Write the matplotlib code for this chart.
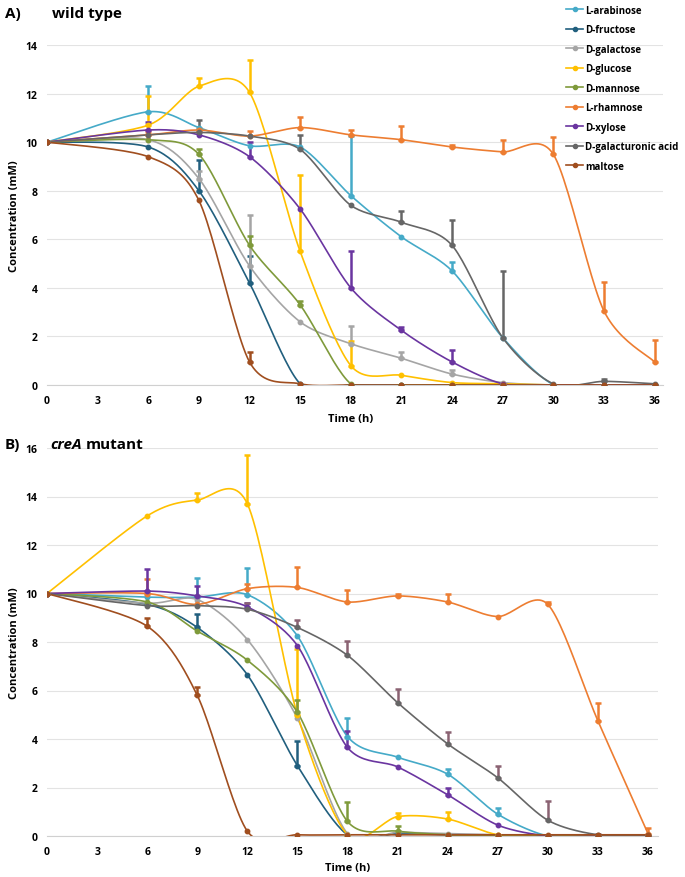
import numpy as np
import matplotlib
matplotlib.use("Agg")
import matplotlib.pyplot as plt

plt.rcParams['font.family'] = ['Open Sans', 'DejaVu Sans']

# sampling times (h)
t = [0, 6, 9, 12, 15, 18, 21, 24, 27, 30, 33, 36]

names = ['L-arabinose', 'D-fructose', 'D-galactose', 'D-glucose', 'D-mannose',
         'L-rhamnose', 'D-xylose', 'D-galacturonic acid', 'maltose']
colors = ['#45AAC8', '#215F7E', '#A5A5A5', '#FFC000', '#7F9A3B',
          '#ED7D31', '#6A35A0', '#666666', '#A04E1F']

# A) wild type, mean and upper error (mM)
arab_wt = [10, 11.25, 10.6, 9.85, 9.8, 7.8, 6.1, 4.7, 1.95, 0.02, 0, 0]
arab_wt_err = [0, 1.05, 0, 0, 0, 2.45, 0, 0.35, 0, 0, 0, 0]
fruc_wt = [10, 9.8, 8.0, 4.2, 0.05, 0, 0, 0, 0, 0, 0, 0]
fruc_wt_err = [0, 0, 1.25, 1.1, 0, 0, 0, 0, 0, 0, 0, 0]
gal_wt = [10, 10.1, 8.5, 4.9, 2.6, 1.7, 1.1, 0.45, 0.1, 0, 0, 0]
gal_wt_err = [0, 0, 0.3, 2.1, 0, 0.75, 0.25, 0.15, 0, 0, 0, 0]
glc_wt = [10, 10.7, 12.3, 12.05, 5.5, 0.8, 0.4, 0.1, 0.05, 0, 0, 0]
glc_wt_err = [0, 1.2, 0.35, 1.35, 3.15, 1.0, 0, 0, 0, 0, 0, 0]
man_wt = [10, 10.1, 9.5, 5.75, 3.3, 0.05, 0, 0, 0, 0, 0, 0]
man_wt_err = [0, 0, 0.2, 0.4, 0.15, 0, 0, 0, 0, 0, 0, 0]
rha_wt = [10, 10.3, 10.5, 10.25, 10.6, 10.3, 10.1, 9.8, 9.6, 9.5, 3.05, 0.95]
rha_wt_err = [0, 0.1, 0.1, 0.2, 0.45, 0.2, 0.55, 0.1, 0.5, 0.7, 1.2, 0.9]
xyl_wt = [10, 10.5, 10.3, 9.4, 7.25, 4.0, 2.25, 0.95, 0.05, 0, 0, 0]
xyl_wt_err = [0, 0.35, 0, 0.6, 0, 1.5, 0.15, 0.5, 0, 0, 0, 0]
gala_wt = [10, 10.3, 10.4, 10.25, 9.7, 7.4, 6.7, 5.75, 1.95, 0.05, 0.15, 0.05]
gala_wt_err = [0, 0, 0.5, 0, 0.6, 0, 0.45, 1.05, 2.75, 0, 0.1, 0]
mal_wt = [10, 9.4, 7.6, 0.95, 0.05, 0, 0, 0, 0, 0, 0, 0]
mal_wt_err = [0, 0, 0, 0.4, 0, 0, 0, 0, 0, 0, 0, 0]

# B) creA mutant
arab_ko = [10, 9.85, 9.85, 9.95, 8.25, 4.1, 3.25, 2.55, 0.9, 0, 0, 0]
arab_ko_err = [0, 0, 0.8, 1.1, 0, 0.75, 0, 0.2, 0.25, 0, 0, 0]
fruc_ko = [10, 9.55, 8.6, 6.65, 2.9, 0.05, 0.1, 0.05, 0, 0, 0, 0]
fruc_ko_err = [0, 0, 0.55, 0, 1.0, 0, 0, 0, 0, 0, 0, 0]
gal_ko = [10, 9.6, 9.75, 8.1, 4.85, 0.1, 0.15, 0.1, 0.05, 0, 0, 0]
gal_ko_err = [0, 0, 0, 0, 0, 0, 0, 0, 0, 0, 0, 0]
glc_ko = [10, 13.2, 13.85, 13.7, 5.0, 0.05, 0.8, 0.7, 0.05, 0, 0, 0]
glc_ko_err = [0, 0, 0.3, 2.0, 2.7, 0, 0.15, 0.3, 0, 0, 0, 0]
man_ko = [10, 9.65, 8.45, 7.25, 5.1, 0.6, 0.2, 0.05, 0, 0, 0, 0]
man_ko_err = [0, 0, 0, 0, 0.5, 0.8, 0.2, 0, 0, 0, 0, 0]
rha_ko = [10, 10.0, 9.55, 10.2, 10.25, 9.65, 9.9, 9.65, 9.05, 9.55, 4.75, 0.1]
rha_ko_err = [0, 0.6, 0, 0.2, 0.85, 0.5, 0.1, 0.35, 0, 0.1, 0.75, 0.25]
xyl_ko = [10, 10.1, 9.9, 9.45, 7.85, 3.65, 2.85, 1.7, 0.45, 0, 0, 0]
xyl_ko_err = [0, 0.9, 0.4, 0.15, 0, 0.7, 0, 0.3, 0, 0, 0, 0]
gala_ko = [10, 9.5, 9.5, 9.35, 8.6, 7.45, 5.5, 3.8, 2.4, 0.65, 0.05, 0.05]
gala_ko_err = [0, 0, 0, 0.25, 0.3, 0.6, 0.55, 0.5, 0.5, 0.8, 0.05, 0]
mal_ko = [10, 8.65, 5.8, 0.2, 0.05, 0.05, 0.05, 0.05, 0.05, 0.05, 0.05, 0.05]
mal_ko_err = [0, 0.35, 0.35, 0, 0, 0, 0, 0, 0, 0, 0, 0]

wt = [(arab_wt, arab_wt_err), (fruc_wt, fruc_wt_err), (gal_wt, gal_wt_err),
      (glc_wt, glc_wt_err), (man_wt, man_wt_err), (rha_wt, rha_wt_err),
      (xyl_wt, xyl_wt_err), (gala_wt, gala_wt_err), (mal_wt, mal_wt_err)]
ko = [(arab_ko, arab_ko_err), (fruc_ko, fruc_ko_err), (gal_ko, gal_ko_err),
      (glc_ko, glc_ko_err), (man_ko, man_ko_err), (rha_ko, rha_ko_err),
      (xyl_ko, xyl_ko_err), (gala_ko, gala_ko_err), (mal_ko, mal_ko_err)]


def smooth(x, y, n=24, k=7.0):
    # Excel-like smoothed line (Catmull-Rom style cubic Bezier)
    x = np.asarray(x, float); y = np.asarray(y, float)
    P = np.column_stack([x, y])
    P = np.vstack([P[0], P, P[-1]])
    s = np.linspace(0, 1, n)[:, None]
    out = []
    for i in range(1, len(P) - 2):
        p0, p1, p2, p3 = P[i - 1], P[i], P[i + 1], P[i + 2]
        c1 = p1 + (p2 - p0) / k
        c2 = p2 - (p3 - p1) / k
        seg = (1 - s)**3 * p1 + 3 * (1 - s)**2 * s * c1 + 3 * (1 - s) * s**2 * c2 + s**3 * p2
        out.append(seg if i == 1 else seg[1:])
    out = np.vstack(out)
    return out[:, 0], out[:, 1]


def panel(ax, data, ymax, xmax, errcols):
    for (vals, err), c, ec, nm in zip(data, colors, errcols, names):
        sx, sy = smooth(t, vals)
        ax.plot(sx, sy, color=c, lw=1.2, zorder=3)
        ax.plot(t, vals, 'o', color=c, ms=3.2, zorder=4)
        idx = [i for i, e in enumerate(err) if e > 0]
        ax.errorbar([t[i] for i in idx], [vals[i] for i in idx],
                    yerr=[[0] * len(idx), [err[i] for i in idx]], fmt='none',
                    ecolor=ec, elinewidth=1.8, capsize=2.0, capthick=1.8, zorder=3)
    ax.set_xlim(0, xmax)
    ax.set_ylim(0, ymax)
    ax.set_xticks(range(0, 37, 3))
    ax.set_yticks(range(0, ymax + 1, 2))
    ax.grid(axis='y', color='#E3E3E3', lw=0.8)
    ax.set_axisbelow(True)
    for s in ['top', 'right', 'left']:
        ax.spines[s].set_visible(False)
    ax.spines['bottom'].set_color('#D0D0D0')
    ax.tick_params(length=0, labelsize=7.5, pad=7)
    for lb in ax.get_xticklabels() + ax.get_yticklabels():
        lb.set_fontweight('bold')


fig = plt.figure(figsize=(6.85, 8.78), dpi=100)
W, H = 685, 878

axA = fig.add_axes([47 / W, (H - 386) / H, 616 / W, 340 / H])
errA = list(colors)
panel(axA, wt, 14, 36.5, errA)

axB = fig.add_axes([47 / W, (H - 837) / H, 611 / W, 388 / H])
errB = list(colors)
errB[7] = '#8A6272'
panel(axB, ko, 16, 36.6, errB)

fig.text(5 / W, 1 - 14 / H, 'A)', fontsize=11, fontweight='bold', va='center')
fig.text(52 / W, 1 - 14 / H, 'wild type', fontsize=11, fontweight='bold', va='center')
fig.text(5 / W, 1 - 445 / H, 'B)', fontsize=11, fontweight='bold', va='center')
cre = fig.text(50 / W, 1 - 445 / H, 'creA', fontsize=11, fontweight='bold', style='italic', va='center')
fig.canvas.draw()
bb = cre.get_window_extent()
fig.text((bb.x1 + 4) / W, 1 - 445 / H, 'mutant', fontsize=11, fontweight='bold', va='center')

fig.text(15 / W, 1 - 216 / H, 'Concentration (mM)', fontsize=8, fontweight='bold',
         rotation=90, ha='center', va='center')
fig.text(15 / W, 1 - 643 / H, 'Concentration (mM)', fontsize=8, fontweight='bold',
         rotation=90, ha='center', va='center')
fig.text(351 / W, 1 - 420 / H, 'Time (h)', fontsize=8, fontweight='bold', ha='center', va='center')
fig.text(348 / W, 1 - 869 / H, 'Time (h)', fontsize=8, fontweight='bold', ha='center', va='center')

handles = [plt.Line2D([], [], color=c, lw=1.2, marker='o', ms=3) for c in colors]
leg = fig.legend(handles, names, loc='upper left', bbox_to_anchor=(562 / W, 1 - 2 / H),
                 frameon=False, fontsize=7, handlelength=1.8, handletextpad=0.2,
                 labelspacing=0.87, borderaxespad=0)
for tx in leg.get_texts():
    tx.set_fontweight('bold')

fig.savefig('out.png', dpi=100)
